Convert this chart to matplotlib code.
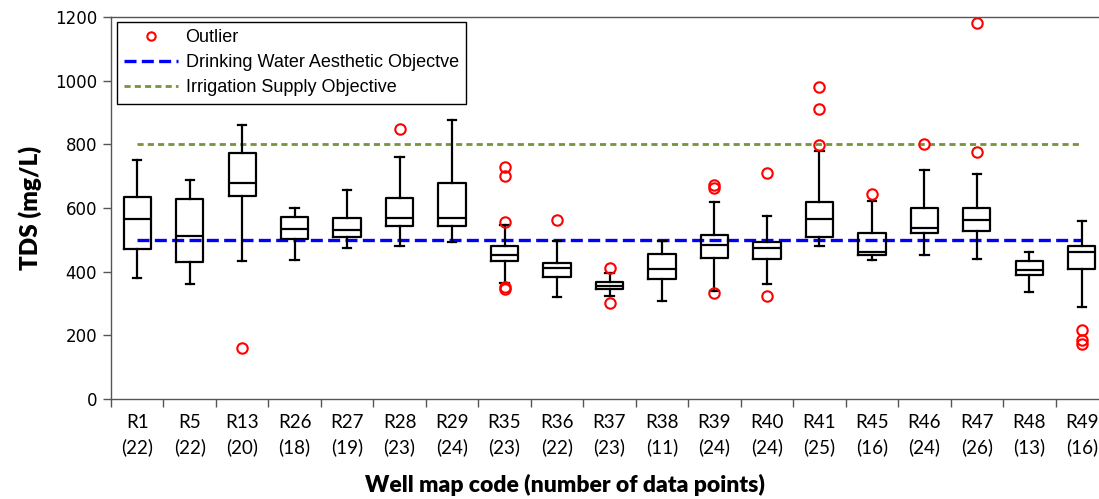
import matplotlib
matplotlib.use("Agg")
import matplotlib.pyplot as plt
from matplotlib.lines import Line2D

wells = ["R1", "R5", "R13", "R26", "R27", "R28", "R29", "R35", "R36", "R37",
         "R38", "R39", "R40", "R41", "R45", "R46", "R47", "R48", "R49"]
counts = [22, 22, 20, 18, 19, 23, 24, 23, 22, 23, 11, 24, 24, 25, 16, 24, 26, 13, 16]
whislo = [380, 360, 434, 437, 475, 482, 494, 364, 320, 322, 309, 340, 361, 480, 438, 453, 440, 336, 290]
q1 =     [472, 431, 638, 504, 510, 545, 545, 433, 383, 344, 378, 444, 439, 510, 453, 521, 527, 391, 408]
med =    [567, 512, 679, 534, 531, 570, 570, 453, 410, 356, 407, 485, 475, 567, 463, 536, 561, 405, 461]
q3 =     [634, 627, 773, 572, 569, 632, 678, 480, 428, 368, 456, 515, 494, 618, 521, 599, 599, 434, 482]
whishi = [751, 688, 860, 599, 657, 761, 878, 547, 496, 397, 497, 618, 575, 780, 621, 719, 708, 463, 560]
outliers = [
    [], [], [161], [], [], [847], [],
    [730, 701, 556, 353, 345], [562], [413, 303], [], [673, 662, 334],
    [709, 325], [980, 912, 798], [645], [800], [1181, 775], [], [216, 186, 172],
]
drinking_objective = 500
irrigation_objective = 800
yticks = [0, 200, 400, 600, 800, 1000, 1200]

fig = plt.figure(figsize=(10.99, 4.99), dpi=100)
ax = fig.add_axes([111 / 1099, 100 / 499, 997 / 1099, 382 / 499])

stats = []
for i in range(len(wells)):
    stats.append(dict(label=f"{wells[i]}\n({counts[i]})", whislo=whislo[i], q1=q1[i],
                      med=med[i], q3=q3[i], whishi=whishi[i], fliers=outliers[i]))

positions = list(range(1, len(wells) + 1))
ax.bxp(stats, positions=positions, widths=0.52, showfliers=True,
       boxprops=dict(color="black", linewidth=1.6),
       medianprops=dict(color="black", linewidth=1.6),
       whiskerprops=dict(color="black", linewidth=1.6),
       capprops=dict(color="black", linewidth=1.6),
       capwidths=0.16,
       flierprops=dict(marker="o", markerfacecolor="none", markeredgecolor="#FF0000",
                       markersize=7.5, markeredgewidth=1.5, linestyle="none"))

blue_dash = (3.6, 1.6)
green_dash = (2.2, 1.5)
ax.plot([positions[0], positions[-1]], [drinking_objective] * 2, color="#0000FF",
        linewidth=2.4, dashes=blue_dash, zorder=1)
ax.plot([positions[0], positions[-1]], [irrigation_objective] * 2, color="#77933C",
        linewidth=2.0, dashes=green_dash, zorder=1)

ax.set_xlim(0.5, len(wells) + 0.5)
ax.set_ylim(0, 1200)
ax.set_yticks(yticks)
ax.set_yticklabels([str(v) for v in yticks], fontsize=12, family="DejaVu Sans")

# category boundary ticks on the x axis
ax.set_xticks([p + 0.5 for p in [0] + positions], minor=True)
ax.tick_params(axis="x", which="major", length=0, pad=11)
ax.tick_params(axis="x", which="minor", length=6, width=1, color="#555555", direction="out")
ax.tick_params(axis="y", length=6, width=1, color="#555555", direction="out", pad=4)
for lbl in ax.get_xticklabels():
    lbl.set_fontfamily(["Lato", "DejaVu Sans"])
    lbl.set_fontsize(13.5)
    lbl.set_linespacing(1.45)

for s in ["left", "bottom", "top"]:
    ax.spines[s].set_color("#555555")
    ax.spines[s].set_linewidth(1.0)
ax.spines["right"].set_visible(False)

ax.set_ylabel("TDS (mg/L)", fontsize=17.5, fontweight="heavy", family="Lato", labelpad=9)
fig.text(565 / 1099, 1 - 485 / 499, "Well map code (number of data points)", fontsize=16.5,
         fontweight="heavy", family="Lato", ha="center", va="center")

handles = [
    Line2D([], [], marker="o", linestyle="none", markerfacecolor="none",
           markeredgecolor="#FF0000", markersize=6, markeredgewidth=1.5),
    Line2D([], [], color="#0000FF", linewidth=2.4, dashes=blue_dash),
    Line2D([], [], color="#77933C", linewidth=2.0, dashes=green_dash),
]
leg = ax.legend(handles, ["Outlier", "Drinking Water Aesthetic Objectve", "Irrigation Supply Objective"],
                loc="upper left", bbox_to_anchor=(6 / 997, 1 - 5 / 382), fancybox=False, framealpha=1,
                edgecolor="black", prop=dict(family="Liberation Sans", size=13), handlelength=3.0,
                borderpad=0.4, labelspacing=0.45, handletextpad=0.4, borderaxespad=0)
leg.get_frame().set_linewidth(1.0)

fig.savefig("out.png", dpi=100)
